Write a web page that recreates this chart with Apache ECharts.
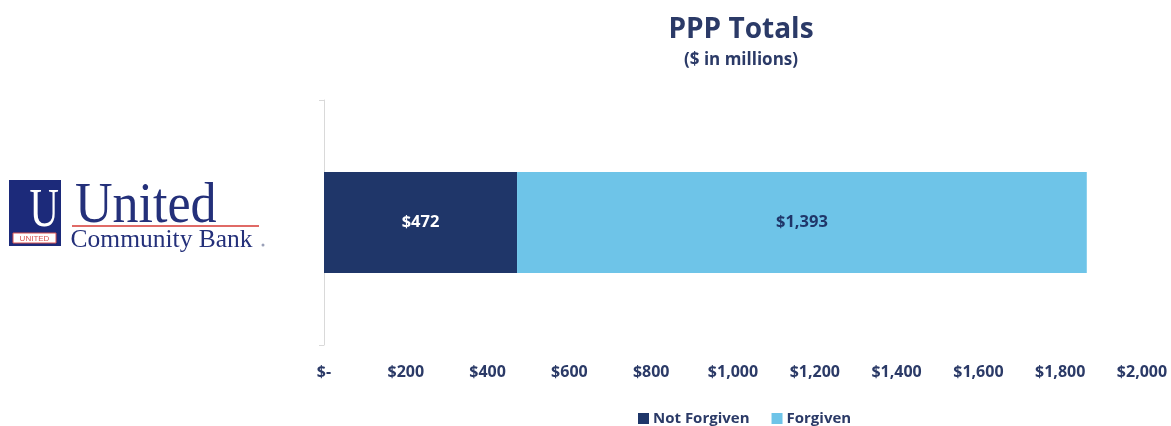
<!DOCTYPE html>
<html>
<head>
<meta charset="utf-8">
<script src="https://cdn.jsdelivr.net/npm/echarts@6/dist/echarts.min.js"></script>
<style>
html,body{margin:0;padding:0;background:#fff;}
#c{width:1171px;height:426px;}
</style>
</head>
<body>
<div id="c"></div>
<script>
var categories = ['PPP'];
var notForgiven = [472];
var forgiven = [1393];
var seriesNames = ['Not Forgiven', 'Forgiven'];
var xTicks = [0, 200, 400, 600, 800, 1000, 1200, 1400, 1600, 1800, 2000];

var navy = '#1f3669';
var sky = '#6ec4e8';
var txt = '#2b3a67';
var font = '"Open Sans", Lato, sans-serif';

function money(v) {
  if (v === 0) return '$-';
  return '$' + v.toLocaleString('en-US');
}

var chart = echarts.init(document.getElementById('c'));
chart.setOption({
  animation: false,
  backgroundColor: '#fff',
  title: [
    { text: 'PPP Totals', left: 736, textAlign: 'center', top: 11,
      textStyle: { fontFamily: font, fontWeight: 'bold', fontSize: 28, color: txt } },
    { text: '($ in millions)', left: 736, textAlign: 'center', top: 47,
      textStyle: { fontFamily: font, fontWeight: 'bold', fontSize: 17, color: txt } }
  ],
  legend: {
    data: seriesNames,
    top: 406, left: 633,
    itemWidth: 11, itemHeight: 11, itemGap: 22,
    icon: 'rect',
    textStyle: { fontFamily: font, fontWeight: 'bold', fontSize: 15, color: txt, padding: [0, 0, 0, -1] }
  },
  grid: { left: 324, right: 29, top: 100, bottom: 81 },
  xAxis: {
    type: 'value', min: 0, max: 2000, interval: 200,
    splitLine: { show: false },
    axisLine: { show: false }, axisTick: { show: false },
    axisLabel: {
      margin: 19, fontFamily: font, fontWeight: 'bold', fontSize: 16, color: txt,
      formatter: function (v) { return xTicks.indexOf(v) >= 0 ? money(v) : ''; }
    }
  },
  yAxis: {
    type: 'category', data: categories,
    axisLine: { show: true, lineStyle: { color: '#d9d9d9', width: 1 } },
    axisTick: { show: true, length: 5, lineStyle: { color: '#d9d9d9' } },
    axisLabel: { show: false }
  },
  series: [
    { name: seriesNames[0], type: 'bar', stack: 't', data: notForgiven, barWidth: 101,
      itemStyle: { color: navy },
      label: { show: true, position: 'inside', formatter: function (p) { return money(p.value); },
        fontFamily: font, fontWeight: 'bold', fontSize: 16.5, color: '#ffffff' } },
    { name: seriesNames[1], type: 'bar', stack: 't', data: forgiven, barWidth: 101,
      itemStyle: { color: sky },
      label: { show: true, position: 'inside', formatter: function (p) { return money(p.value); },
        fontFamily: font, fontWeight: 'bold', fontSize: 16.5, color: '#1f3669' } }
  ],
  graphic: [
    { type: 'rect', shape: { x: 9, y: 180, width: 52, height: 66 }, style: { fill: '#1c2a7a' } },
    { type: 'text', x: 35, y: 239, scaleX: 0.74, originX: 35, originY: 239,
      style: { text: 'U', fill: '#ffffff', font: '55px "Liberation Serif", serif', textAlign: 'center', textVerticalAlign: 'bottom' } },
    { type: 'rect', shape: { x: 13, y: 233, width: 43, height: 10 }, style: { fill: '#ffffff', stroke: '#d9534f', lineWidth: 1 } },
    { type: 'text', x: 34.5, y: 238.5, style: { text: 'UNITED', fill: '#d9534f', font: '8px "Liberation Sans", sans-serif', textAlign: 'center', textVerticalAlign: 'middle' } },
    { type: 'text', x: 70, y: 235, scaleX: 0.93, originX: 70, originY: 235,
      style: { text: 'United', fill: '#24307a', font: '56px "Liberation Serif", serif', textAlign: 'left', textVerticalAlign: 'bottom' } },
    { type: 'rect', shape: { x: 72, y: 225, width: 187, height: 2 }, style: { fill: '#e06a66' } },
    { type: 'text', x: 72, y: 253, scaleX: 1.02, originX: 72, originY: 253,
      style: { text: 'Community Bank', fill: '#24307a', font: '25px "Liberation Serif", serif', textAlign: 'left', textVerticalAlign: 'bottom' } },
    { type: 'circle', shape: { cx: 263, cy: 245, r: 1.5 }, style: { fill: '#9aa0b8' } }
  ]
});
</script>
</body>
</html>
